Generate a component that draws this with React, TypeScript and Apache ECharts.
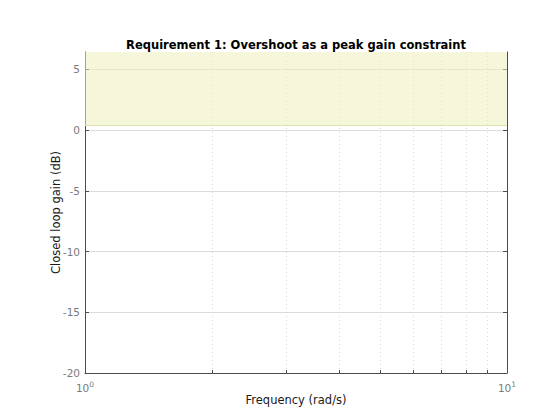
import React, { useEffect, useRef } from "react";
import * as echarts from "echarts";

const titleText = "Requirement 1: Overshoot as a peak gain constraint";
const xName = "Frequency (rad/s)";
const yName = "Closed loop gain (dB)";
const xTickValues = [1, 2, 3, 4, 5, 6, 7, 8, 9, 10];
const xLabelValues = [1, 10];
const yTickValues = [-20, -15, -10, -5, 0, 5];
const xRange = [1, 10];
const yRange = [-20, 6.42];
const constraintBand = [0.35, 6.42];

export default function App() {
  const ref = useRef<HTMLDivElement>(null);
  useEffect(() => {
    if (!ref.current) return;
    const chart = echarts.init(ref.current, undefined, { renderer: "svg" });
    const font = "DejaVu Sans";
    const axisColor = "#4d4d4d";
    chart.setOption({
      animation: false,
      backgroundColor: "#ffffff",
      textStyle: { fontFamily: font },
      title: {
        text: titleText,
        left: 291,
        textAlign: "center",
        top: 34,
        textStyle: { fontSize: 11.5, fontWeight: "bold", color: "#000", fontFamily: font },
      },
      grid: { left: 85, right: 53, top: 52, bottom: 47 },
      xAxis: [
        {
          type: "log",
          logBase: 10,
          min: xRange[0],
          max: xRange[1],
          name: xName,
          nameLocation: "middle",
          nameGap: 21,
          nameMoveOverlap: false,
          nameTextStyle: { fontSize: 11.5, color: "#1a1a1a", fontFamily: font },
          axisLine: { show: true, onZero: false, lineStyle: { color: axisColor, width: 1 } },
          axisTick: { show: true, inside: true, length: 3, customValues: xTickValues, lineStyle: { color: axisColor } },
          axisLabel: {
            customValues: xLabelValues,
            margin: 7,
            color: "#7a7a7a",
            formatter: (v: number) => `{b|10}{s|${Math.round(Math.log10(v))}}`,
            rich: {
              b: { fontSize: 10.5, color: "#7a7a7a", fontFamily: font },
              s: { fontSize: 7.5, color: "#7a7a7a", fontFamily: font, padding: [0, 0, 7, 0] },
            },
          },
          splitLine: { show: true, lineStyle: { color: "#d6d6d6", type: [1, 3], width: 1 } },
        },
      ],
      yAxis: [
        {
          type: "value",
          min: yRange[0],
          max: yRange[1],
          name: yName,
          nameLocation: "middle",
          nameGap: 23,
          nameMoveOverlap: false,
          nameTextStyle: { fontSize: 11.5, color: "#1a1a1a", fontFamily: font },
          axisLine: { show: true, onZero: false, lineStyle: { color: axisColor, width: 1 } },
          axisTick: { show: true, inside: true, length: 4, customValues: yTickValues, lineStyle: { color: axisColor } },
          axisLabel: { customValues: yTickValues, margin: 5, fontSize: 10.5, color: "#7a7a7a", fontFamily: font },
          splitLine: { show: true, lineStyle: { color: "#dcdcdc", width: 1 } },
        },
        {
          type: "value",
          min: yRange[0],
          max: yRange[1],
          position: "right",
          axisLine: { show: true, onZero: false, lineStyle: { color: axisColor, width: 1 } },
          axisTick: { show: true, inside: true, length: 4, customValues: yTickValues, lineStyle: { color: axisColor } },
          axisLabel: { show: false },
          splitLine: { show: false },
        },
      ],
      series: [
        {
          type: "line",
          data: [],
          markArea: {
            silent: true,
            itemStyle: { color: "rgba(238,238,190,0.55)", borderWidth: 0 },
            data: [[{ yAxis: constraintBand[0] }, { yAxis: constraintBand[1] }]],
          },
          markLine: {
            silent: true,
            symbol: "none",
            label: { show: false },
            lineStyle: { color: "rgba(222,222,170,0.95)", type: "solid", width: 1 },
            data: [{ yAxis: constraintBand[0] }],
          },
        },
      ],
    });
    return () => chart.dispose();
  }, []);
  return <div ref={ref} style={{ width: 560, height: 420, margin: -8 }} />;
}
